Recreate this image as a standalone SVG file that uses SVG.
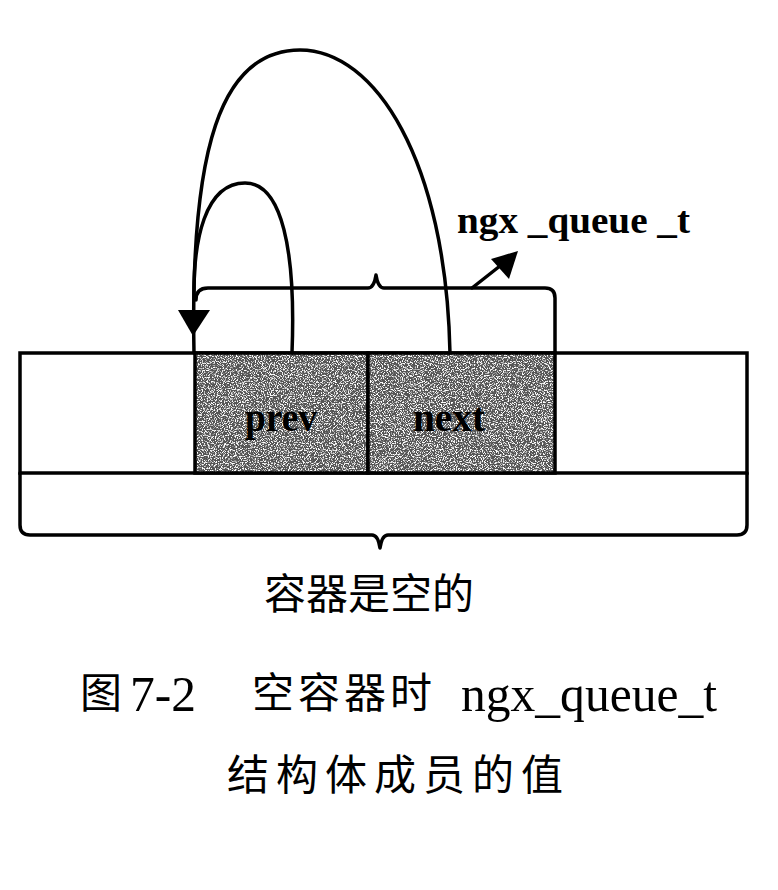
<svg xmlns="http://www.w3.org/2000/svg" width="778" height="890" viewBox="0 0 778 890">
<defs>
<filter id="grain" x="0" y="0" width="100%" height="100%">
<feTurbulence type="fractalNoise" baseFrequency="0.85" numOctaves="2" seed="7" result="n"/>
<feColorMatrix in="n" type="matrix" values="0 0 0 0 1  0 0 0 0 1  0 0 0 0 1  6 0 0 0 -3.0" result="w"/>
<feComposite in="w" in2="SourceGraphic" operator="in" result="wc"/>
<feMerge><feMergeNode in="SourceGraphic"/><feMergeNode in="wc"/></feMerge>
</filter>
</defs>
<style>
.ln{fill:none;stroke:#000;stroke-width:3.5;stroke-linecap:round;stroke-linejoin:round}
.cell{fill:#555;filter:url(#grain)}
.edge{fill:none;stroke:#000;stroke-width:3.5}
.box{fill:#fff;stroke:#000;stroke-width:3.5}
.lbl{font-family:"Liberation Serif","DejaVu Serif",serif;font-weight:bold;fill:#000}
.cap{font-family:"Liberation Serif","Noto Sans CJK SC",serif;fill:#000}
.cjk{font-family:"Noto Sans CJK SC","Liberation Sans",sans-serif;fill:#000}
</style>
<rect width="778" height="890" fill="#fff"/>
<g id="container">
<rect class="box" x="20" y="353" width="727" height="120"/>
</g>
<g id="prev">
<rect class="cell" x="195" y="353" width="173" height="120"/>
<rect class="edge" x="195" y="353" width="173" height="120"/>
<text class="lbl" x="281" y="431" font-size="40" text-anchor="middle" textLength="72" lengthAdjust="spacingAndGlyphs">prev</text>
</g>
<g id="next">
<rect class="cell" x="368" y="353" width="187" height="120"/>
<rect class="edge" x="368" y="353" width="187" height="120"/>
<text class="lbl" x="449" y="431" font-size="40" text-anchor="middle" textLength="72" lengthAdjust="spacingAndGlyphs">next</text>
</g>
<g id="connectors">
<path class="ln" d="M450,353 C446,160 375,50 300,50 C220,50 190,150 194,353"/>
<path class="ln" d="M292,353 C296,250 282,183 245,183 C205,183 193,240 194,300"/>
<polygon points="178,310 210,310 193,336" fill="#000"/>
<path class="ln" d="M196,300 Q196,288 208,288 L368,288 Q374,288 376,275 Q378,288 384,288 L545,288 Q555,288 555,298 L555,353"/>
<path class="ln" d="M20,473 L20,525 Q20,535 30,535 L372,535 Q378,535 380,548 Q382,535 388,535 L737,535 Q747,535 747,525 L747,473"/>
<line class="ln" x1="472" y1="288" x2="505" y2="262"/>
<polygon points="518,251 491,259 509,279" fill="#000"/>
</g>
<g id="labels">
<text class="lbl" x="457" y="233" font-size="38" textLength="233" lengthAdjust="spacingAndGlyphs">ngx _queue _t</text>
<text class="cjk" x="264" y="609" font-size="42">容器是空的</text>
</g>
<g id="caption">
<text class="cap" y="711" font-size="50"><tspan class="cjk" x="80" y="708" font-size="42">图</tspan><tspan x="130" y="711" textLength="66" lengthAdjust="spacingAndGlyphs">7-2</tspan><tspan class="cjk" x="252" y="708" font-size="42" letter-spacing="4">空容器时</tspan><tspan x="461" y="711" textLength="256" lengthAdjust="spacingAndGlyphs">ngx_queue_t</tspan></text>
<text class="cjk" x="227" y="790" font-size="42" letter-spacing="7">结构体成员的值</text>
</g>
</svg>
